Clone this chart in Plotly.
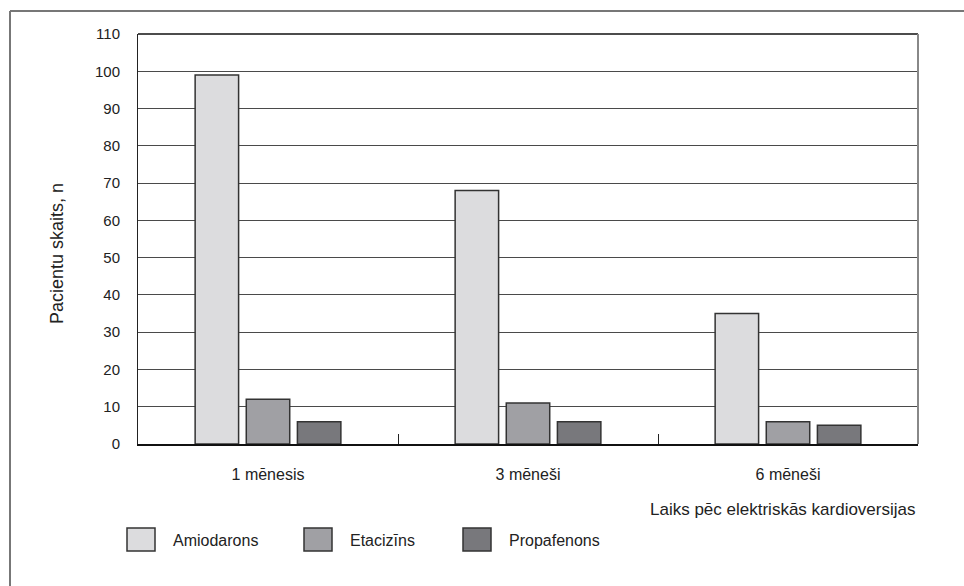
import plotly.graph_objects as go

# Data
periods = ["1 mēnesis", "3 mēneši", "6 mēneši"]
amiodarons = [99, 68, 35]
etacizins = [12, 11, 6]
propafenons = [6, 6, 5]
series_names = ["Amiodarons", "Etacizīns", "Propafenons"]
series_colors = ["#dcdcde", "#a0a0a4", "#78787c"]
y_ticks = list(range(0, 111, 10))

W, H = 964, 586
L, R, T, B = 138, 918, 34, 444  # plot area in pixels

def px(x):
    return (x - L) / (R - L)

def py(y):
    return (B - y) / (B - T)

fig = go.Figure()
for name, vals, col in zip(series_names, [amiodarons, etacizins, propafenons], series_colors):
    fig.add_trace(go.Bar(
        x=periods, y=vals, name=name,
        marker=dict(color=col, line=dict(color="#333333", width=1.5)),
        showlegend=False,
    ))

font_main = "Liberation Sans, Arial, sans-serif"

fig.update_layout(
    width=W, height=H,
    margin=dict(l=L, r=W - R, t=T, b=H - B),
    paper_bgcolor="white", plot_bgcolor="white",
    barmode="group", bargap=0.41, bargroupgap=0.15,
    font=dict(family=font_main, size=15, color="#222222"),
)

fig.update_xaxes(
    type="category", tickson="boundaries", ticks="inside", ticklen=10,
    tickcolor="#222222", tickwidth=1, showgrid=False,
    showline=True, linecolor="#111111", linewidth=2,
    tickfont=dict(family=font_main, size=16, color="#222222"),
    ticklabelstandoff=15,
)
fig.update_yaxes(
    range=[0, 110], tickvals=y_ticks, ticks="", showgrid=True,
    gridcolor="#4a4a4a", gridwidth=1, zeroline=False,
    showline=True, linecolor="#222222", linewidth=1, mirror=False,
    tickfont=dict(family=font_main, size=15, color="#222222"),
    ticklabelstandoff=14,
)

shapes = []
# plot frame: top and right borders
shapes.append(dict(type="line", xref="paper", yref="paper", x0=0, x1=1, y0=1, y1=1,
                   line=dict(color="#111111", width=1.5)))
shapes.append(dict(type="line", xref="paper", yref="paper", x0=1, x1=1, y0=0, y1=1,
                   line=dict(color="#888888", width=2)))
# outer figure frame
shapes.append(dict(type="line", xref="paper", yref="paper", x0=px(10), x1=px(964), y0=py(11), y1=py(11),
                   line=dict(color="#777777", width=2)))
shapes.append(dict(type="line", xref="paper", yref="paper", x0=px(10), x1=px(10), y0=py(11), y1=py(586),
                   line=dict(color="#777777", width=2)))

annotations = []
# legend swatches and labels
legend_x = [127, 304, 463]
for name, col, lx in zip(series_names, series_colors, legend_x):
    shapes.append(dict(type="rect", xref="paper", yref="paper",
                       x0=px(lx), x1=px(lx + 28), y0=py(551), y1=py(528),
                       fillcolor=col, line=dict(color="#333333", width=1.5)))
    annotations.append(dict(xref="paper", yref="paper", x=px(lx + 44), y=py(540),
                            text=name, showarrow=False, xanchor="left", yanchor="middle",
                            font=dict(family=font_main, size=16, color="#222222")))

# axis titles
annotations.append(dict(xref="paper", yref="paper", x=px(918), y=py(510),
                        text="Laiks pēc elektriskās kardioversijas", showarrow=False,
                        xanchor="right", yanchor="middle",
                        font=dict(family=font_main, size=17, color="#222222")))
annotations.append(dict(xref="paper", yref="paper", x=px(57), y=py(254),
                        text="Pacientu skaits, n", showarrow=False, textangle=-90,
                        xanchor="center", yanchor="middle",
                        font=dict(family=font_main, size=18, color="#222222")))

fig.update_layout(shapes=shapes, annotations=annotations)

fig.write_html("out.html")
